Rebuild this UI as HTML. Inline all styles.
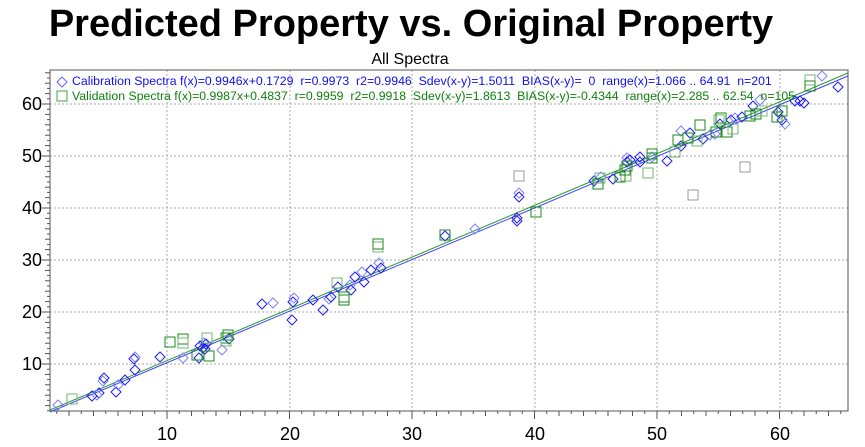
<!DOCTYPE html>
<html><head><meta charset="utf-8"><style>
html,body{margin:0;padding:0;background:#fff;width:865px;height:447px;overflow:hidden}
svg{display:block}
text{font-family:"Liberation Sans",Arial,sans-serif}
</style></head><body>
<svg id="s" width="865" height="447" xmlns="http://www.w3.org/2000/svg">
<text x="411" y="36" font-size="38" font-weight="bold" text-anchor="middle">Predicted Property vs. Original Property</text>
<text x="410" y="64" font-size="16" text-anchor="middle">All Spectra</text>
<g stroke="#aaa" stroke-dasharray="2,2" stroke-width="1">
<line x1="167" y1="70" x2="167" y2="411"/><line x1="290" y1="70" x2="290" y2="411"/><line x1="412" y1="70" x2="412" y2="411"/><line x1="535" y1="70" x2="535" y2="411"/><line x1="657" y1="70" x2="657" y2="411"/><line x1="780" y1="70" x2="780" y2="411"/>
<line x1="50" y1="104" x2="848" y2="104"/><line x1="50" y1="156" x2="848" y2="156"/><line x1="50" y1="208" x2="848" y2="208"/><line x1="50" y1="260" x2="848" y2="260"/><line x1="50" y1="312" x2="848" y2="312"/><line x1="50" y1="364" x2="848" y2="364"/>
</g>
<rect x="50" y="70" width="798" height="341" fill="none" stroke="#555" stroke-width="1"/>
<g id="ticks" stroke="#555"></g>
<g font-size="18" text-anchor="end">
<text x="42" y="110">60</text><text x="42" y="162">50</text><text x="42" y="214">40</text><text x="42" y="266">30</text><text x="42" y="318">20</text><text x="42" y="370">10</text>
</g>
<g font-size="18" text-anchor="middle">
<text x="167" y="440">10</text><text x="290" y="440">20</text><text x="412" y="440">30</text><text x="535" y="440">40</text><text x="657" y="440">50</text><text x="780" y="440">60</text>
</g>
<line x1="50" y1="412" x2="848" y2="76" stroke="#4040ff" stroke-width="1"/>
<line x1="50" y1="410" x2="848" y2="73" stroke="#2a9a2a" stroke-width="1"/>
<g id="pts"></g>
<text x="72" y="85" font-size="12.3" fill="#1010ee" xml:space="preserve">Calibration Spectra f(x)=0.9946x+0.1729  r=0.9973  r2=0.9946  Sdev(x-y)=1.5011  BIAS(x-y)=  0  range(x)=1.066 .. 64.91  n=201</text>
<text x="72" y="100" font-size="12.3" fill="#108010" xml:space="preserve">Validation Spectra f(x)=0.9987x+0.4837  r=0.9959  r2=0.9918  Sdev(x-y)=1.8613  BIAS(x-y)=-0.4344  range(x)=2.285 .. 62.54  n=105</text>
<path d="M62,77 l5,5 l-5,5 l-5,-5z" fill="none" stroke="#6060ff"/>
<rect x="57" y="91" width="10" height="10" fill="none" stroke="#40a040"/>
</svg>
<script>
var NS="http://www.w3.org/2000/svg",t=document.getElementById('ticks'),p=document.getElementById('pts');
function L(a,b,c,d){var l=document.createElementNS(NS,'line');l.setAttribute('x1',a);l.setAttribute('y1',b);l.setAttribute('x2',c);l.setAttribute('y2',d);t.appendChild(l);}
for(var v=1;v<=65;v++){var x=44.5+12.25*v;if(x<50||x>848)continue;L(x,411,x,v%10==0?419:v%2==0?416:414);}
for(var v=1;v<=66;v++){var y=416-5.2*v;if(y<70||y>411)continue;L(50,y,v%10==0?42:v%2==0?45:47,y);}
var B=[[58,405],[92,396],[99,393],[103,381],[104,378],[116,392],[118,385],[125,380],[134,359],[135,357],[135,370],[160,357],[183,358],[199,358],[203,348],[204,343],[205,349],[206,344],[222,350],[229,339],[262,304],[273,303],[292,320],[293,302],[294,298],[313,300],[323,310],[329,299],[331,297],[338,287],[350,285],[351,290],[355,277],[362,272],[364,282],[371,270],[379,263],[381,268],[445,236],[475,229],[517,221],[517,218],[519,193],[519,197],[594,181],[601,177],[613,179],[627,162],[627,158],[640,157],[640,162],[652,157],[667,161],[681,146],[681,131],[690,133],[703,139],[715,134],[720,124],[731,120],[735,118],[742,117],[753,106],[760,100],[778,112],[782,120],[785,124],[795,101],[800,101],[822,76],[838,87],[804,103],[97,395],[200,346],[630,160],[710,135]];
var G=[[72,399],[170,342],[183,339],[183,343],[197,355],[209,356],[207,338],[226,338],[228,335],[337,283],[344,297],[344,300],[378,247],[445,235],[536,212],[600,178],[598,184],[620,177],[626,176],[627,166],[625,170],[648,173],[652,158],[652,154],[675,152],[678,140],[688,138],[697,141],[700,125],[716,132],[719,120],[721,118],[727,132],[733,129],[750,116],[756,114],[762,111],[777,117],[782,111],[810,80],[810,86],[378,244],[226,341]];
var Gr=[[519,176],[693,195],[745,167]];
B.forEach(function(q,i){var e=document.createElementNS(NS,'path');e.setAttribute('d','M'+q[0]+','+(q[1]-5)+' l5,5 l-5,5 l-5,-5z');e.setAttribute('fill','none');e.setAttribute('stroke',i%3?'#2020f0':'#8080ff');p.appendChild(e);});
function sq(q,c){var e=document.createElementNS(NS,'rect');e.setAttribute('x',q[0]-5);e.setAttribute('y',q[1]-5);e.setAttribute('width',10);e.setAttribute('height',10);e.setAttribute('fill','none');e.setAttribute('stroke',c);p.appendChild(e);}
G.forEach(function(q,i){sq(q,i%3?'#1a8a1a':'#70b870');});
Gr.forEach(function(q){sq(q,'#999');});
</script>
</body></html>
